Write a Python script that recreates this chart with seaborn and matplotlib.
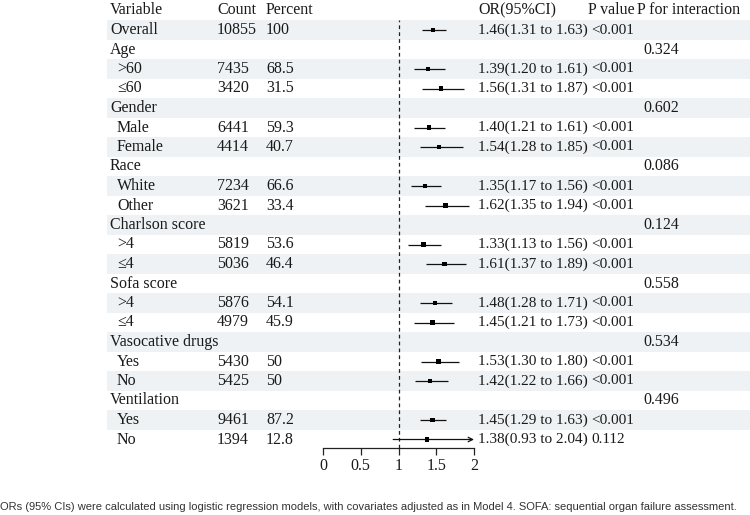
import matplotlib
matplotlib.use("Agg")
import matplotlib.pyplot as plt
import seaborn as sns
import pandas as pd
import numpy as np

sns.set_theme(style="white")
plt.rcParams['font.family'] = ['Liberation Serif', 'DejaVu Serif']

# ---- data ----
labels = ["Overall", "Age", ">60", "≤60", "Gender", "Male", "Female", "Race", "White", "Other",
          "Charlson score", ">4", "≤4", "Sofa score", ">4", "≤4", "Vasocative drugs", "Yes", "No",
          "Ventilation", "Yes", "No"]
is_group = [True, True, False, False, True, False, False, True, False, False,
            True, False, False, True, False, False, True, False, False,
            True, False, False]
counts = ["10855", "", "7435", "3420", "", "6441", "4414", "", "7234", "3621",
          "", "5819", "5036", "", "5876", "4979", "", "5430", "5425", "", "9461", "1394"]
percents = ["100", "", "68.5", "31.5", "", "59.3", "40.7", "", "66.6", "33.4",
            "", "53.6", "46.4", "", "54.1", "45.9", "", "50", "50", "", "87.2", "12.8"]
or_est = [1.46, None, 1.39, 1.56, None, 1.40, 1.54, None, 1.35, 1.62,
          None, 1.33, 1.61, None, 1.48, 1.45, None, 1.53, 1.42, None, 1.45, 1.38]
ci_low = [1.31, None, 1.20, 1.31, None, 1.21, 1.28, None, 1.17, 1.35,
          None, 1.13, 1.37, None, 1.28, 1.21, None, 1.30, 1.22, None, 1.29, 0.93]
ci_high = [1.63, None, 1.61, 1.87, None, 1.61, 1.85, None, 1.56, 1.94,
           None, 1.56, 1.89, None, 1.71, 1.73, None, 1.80, 1.66, None, 1.63, 2.04]
p_values = ["<0.001", "", "<0.001", "<0.001", "", "<0.001", "<0.001", "", "<0.001", "<0.001",
            "", "<0.001", "<0.001", "", "<0.001", "<0.001", "", "<0.001", "<0.001", "", "<0.001", "0.112"]
p_inter = ["", "0.324", "", "", "0.602", "", "", "0.086", "", "",
           "0.124", "", "", "0.558", "", "", "0.534", "", "", "0.496", "", ""]
headers = ["Variable", "Count", "Percent", "OR(95%CI)", "P value", "P for interaction"]
x_ticks = [0, 0.5, 1, 1.5, 2]
footnote = ("ORs (95% CIs) were calculated using logistic regression models, with covariates "
            "adjusted as in Model 4. SOFA: sequential organ failure assessment.")

W, H = 750, 515
fig = plt.figure(figsize=(W / 100, H / 100), dpi=100)
fig.patch.set_facecolor("white")

# background axes in pixel coordinates
bg = fig.add_axes([0, 0, 1, 1])
bg.set_xlim(0, W)
bg.set_ylim(H, 0)
bg.axis("off")

row0 = 10.5
rowh = 19.5
def ypix(i):
    return row0 + rowh * i

txt_color = "#1a1a1a"
fs = 11.5      # labels / headers
fsn = 11.0     # numeric cells
shade = "#eef2f4"

n = len(labels)
for i in range(n):
    r = i + 1
    if r % 2 == 1:
        bg.add_patch(plt.Rectangle((107, ypix(r) - rowh / 2), W - 107, rowh,
                                   facecolor=shade, edgecolor="none", zorder=0))

col_x = [110, 217, 266, 478, 588, 637]
for h, x in zip(headers, col_x):
    bg.text(x, ypix(0), h, fontsize=fs, color=txt_color, va="center", ha="left")

for i in range(n):
    r = i + 1
    y = ypix(r)
    bg.text(110 if is_group[i] else 117, y, labels[i], fontsize=fs, color=txt_color,
            va="center", ha="left")
    if counts[i]:
        bg.text(217, y, counts[i], fontsize=fs, color=txt_color, va="center")
    if percents[i]:
        bg.text(266, y, percents[i], fontsize=fs, color=txt_color, va="center")
    if or_est[i] is not None:
        bg.text(478, y, f"{or_est[i]:.2f}({ci_low[i]:.2f} to {ci_high[i]:.2f})",
                fontsize=fsn, color=txt_color, va="center")
        bg.text(591, y, p_values[i], fontsize=fsn, color=txt_color, va="center")
    if p_inter[i]:
        bg.text(643, y, p_inter[i], fontsize=fs, color=txt_color, va="center")

bg.text(0, 507, footnote, fontsize=8.0, color="#333333", va="center", ha="left",
        family=["Liberation Sans", "DejaVu Sans"])

# forest axes
x0_pix, x2_pix = 323, 474
top_pix, bot_pix = 20, 448
ax = fig.add_axes([x0_pix / W, 1 - bot_pix / H, (x2_pix - x0_pix) / W, (bot_pix - top_pix) / H])
ax.patch.set_alpha(0)
ax.set_xlim(0, 2)
ax.set_ylim((bot_pix - row0) / rowh, (top_pix - row0) / rowh)

df = pd.DataFrame({"row": np.arange(1, n + 1), "est": or_est, "lo": ci_low, "hi": ci_high})
df = df.dropna()

ax.axvline(1, color="#222222", lw=0.9, ls=(0, (3, 2.5)), zorder=1)
for _, rw in df.iterrows():
    if rw.hi > 2:
        ax.annotate("", xy=(2, rw.row), xytext=(rw.lo, rw.row),
                    arrowprops=dict(arrowstyle="->", color="#111111", lw=0.9,
                                    shrinkA=0, shrinkB=0, mutation_scale=8),
                    annotation_clip=False)
    else:
        ax.hlines(rw.row, rw.lo, rw.hi, color="#111111", lw=0.9, zorder=2)

sns.scatterplot(data=df, x="est", y="row", marker="s", s=10, color="#000000",
                edgecolor="none", ax=ax, zorder=3, legend=False)

ax.set_xlabel("")
ax.set_ylabel("")
ax.set_yticks([])
ax.set_xticks(x_ticks)
ax.set_xticklabels(["0", "0.5", "1", "1.5", "2"])
for s in ["top", "right", "left"]:
    ax.spines[s].set_visible(False)
ax.spines["bottom"].set_color("#222222")
ax.spines["bottom"].set_linewidth(0.9)
ax.tick_params(axis="x", direction="out", length=5, width=0.9, color="#222222",
               labelsize=fs, labelcolor=txt_color, pad=2, bottom=True)

fig.savefig("out.png", dpi=100, facecolor="white")
